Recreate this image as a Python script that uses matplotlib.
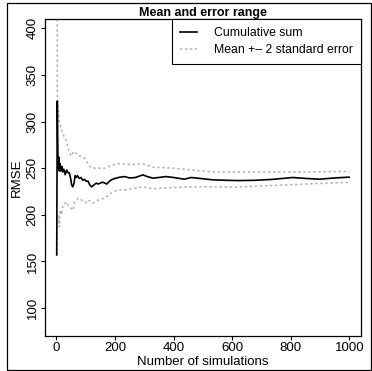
import matplotlib
matplotlib.use("Agg")
import matplotlib.pyplot as plt
from matplotlib.lines import Line2D
from matplotlib.patches import Rectangle

plt.rcParams['font.family'] = ['Liberation Sans', 'DejaVu Sans']

# cumulative mean of RMSE
mean_x = [1, 3, 5, 7, 8, 10, 12, 15, 18, 21, 25, 30, 35, 40, 44, 48, 52, 56, 60,
          64, 68, 72, 78, 84, 90, 96, 102, 108, 114, 120, 128, 136, 142, 150,
          158, 165, 172, 178, 187, 200, 216, 233, 250, 270, 295, 310, 329, 350,
          374, 400, 437, 460, 490, 534, 580, 625, 680, 738, 807, 850, 898, 950,
          994, 1000]
mean_y = [157, 322, 264, 250, 262, 247, 255, 247, 252, 246, 249, 243, 248, 245,
          245, 240, 232, 230, 234, 242, 240, 242, 239, 240, 237, 238, 236, 236,
          232, 230, 232, 234, 233, 234, 235, 234, 233, 235, 237.5, 239, 240.3,
          241, 239.5, 240, 242.8, 241, 239.3, 240, 241, 240, 238.2, 240, 239,
          237.5, 237, 236.7, 237, 238, 240, 239, 238.2, 239.5, 240.3, 240.3]

# upper bound (mean + 2 SE)
upper_x = [2, 3, 5, 10, 16, 23, 33, 40, 44, 50, 59, 68, 72, 95, 119, 140, 165,
           190, 210, 250, 295, 329, 398, 466, 534, 636, 738, 852, 1000]
upper_y = [480, 330, 315, 300, 293, 286, 280, 272, 268, 263, 268, 266, 264, 261,
           250, 250, 250, 253, 255, 254, 254.6, 251, 250, 248, 246, 246, 246,
           246, 246.5]

# lower bound (mean - 2 SE)
lower_x = [2, 3, 6, 10, 13, 17, 22, 27, 33, 40, 50, 57, 61, 74, 85, 101, 108,
           125, 145, 165, 190, 210, 233, 260, 295, 330, 386, 454, 534, 625, 738,
           852, 1000]
lower_y = [157, 190, 200, 187, 205, 200, 210, 211, 214, 210, 207, 205, 212.6,
           218, 216, 213, 216, 212.5, 216, 218, 224, 226.7, 226.7, 228, 230,
           228, 229, 230, 230, 229.7, 231.5, 233, 234.8]

x_ticks = [0, 200, 400, 600, 800, 1000]
y_ticks = [100, 150, 200, 250, 300, 350, 400]

fig = plt.figure(figsize=(3.72, 3.71), dpi=100)
ax = fig.add_axes([45 / 372, 1 - 336 / 371, 316 / 372, 317 / 371])

gray = '#b0b0b0'
dots = (0, (1.5, 1.8))
ax.plot(upper_x, upper_y, color=gray, lw=1.1, linestyle=dots)
ax.plot(lower_x, lower_y, color=gray, lw=1.1, linestyle=dots)
ax.plot(mean_x, mean_y, color='black', lw=1.2)

ax.set_xlim(-39, 1040)
ax.set_ylim(70, 410)
ax.set_xticks(x_ticks)
ax.set_yticks(y_ticks)
ax.tick_params(labelsize=9.5, length=3, width=0.8, pad=1.5, color='black')
plt.setp(ax.get_yticklabels(), rotation=90, va='center')
for s in ax.spines.values():
    s.set_linewidth(0.9)

ax.set_xlabel('Number of simulations', fontsize=9.5, labelpad=1)
ax.set_ylabel('RMSE', fontsize=9.5, labelpad=3)
ax.set_title('Mean and error range', fontsize=9, fontweight='bold', pad=1.5)

handles = [Line2D([], [], color='black', lw=1.2),
           Line2D([], [], color=gray, lw=1.1, linestyle=dots)]
labels = ['Cumulative sum', 'Mean +\u2013 2 standard error']
leg = ax.legend(handles, labels, loc='upper right', borderaxespad=0,
                fontsize=8.8, fancybox=False, edgecolor='black', framealpha=1,
                handlelength=1.4, handletextpad=1.4, borderpad=0.65,
                labelspacing=0.45)
leg.get_frame().set_linewidth(0.8)

# outer frame around the whole figure
fig.patches.append(Rectangle((7 / 372, 0.002), 1 - 7 / 372 - 0.003, 1 - 3 / 371 - 0.002,
                             transform=fig.transFigure, fill=False,
                             edgecolor='black', lw=0.9))

fig.savefig('out.png', dpi=100)
